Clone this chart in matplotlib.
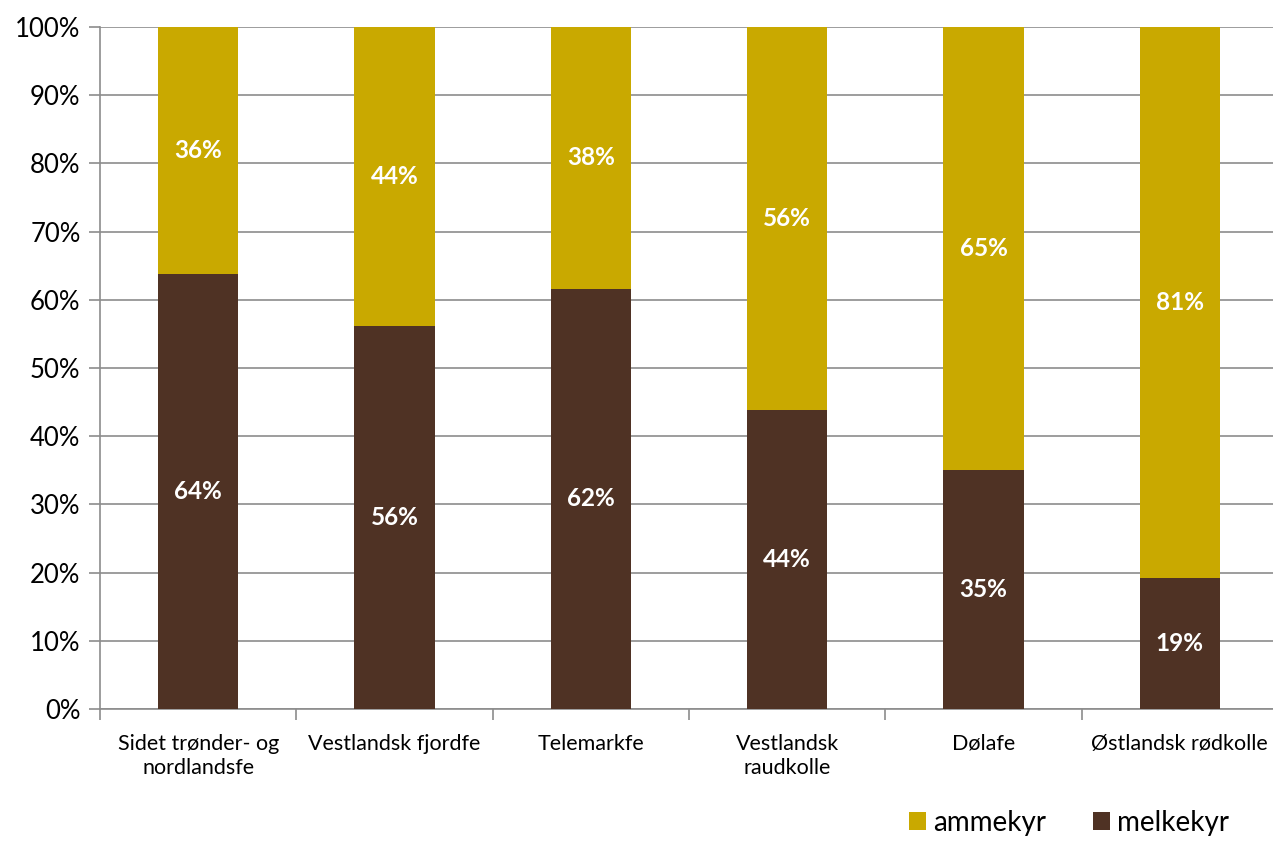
import matplotlib
matplotlib.use("Agg")
import matplotlib.pyplot as plt
import numpy as np

categories = ["Sidet trønder- og\nnordlandsfe", "Vestlandsk fjordfe", "Telemarkfe",
              "Vestlandsk\nraudkolle", "Dølafe", "Østlandsk rødkolle"]
melkekyr = [63.8, 56.2, 61.6, 43.8, 35.0, 19.2]
ammekyr = [36.2, 43.8, 38.4, 56.2, 65.0, 80.8]
melk_labels = ["64%", "56%", "62%", "44%", "35%", "19%"]
amme_labels = ["36%", "44%", "38%", "56%", "65%", "81%"]
yticks = list(range(0, 101, 10))

c_amme = "#C9A900"
c_melk = "#4F3224"

plt.rcParams['font.family'] = ['Lato', 'DejaVu Sans']

fig = plt.figure(figsize=(12.73, 8.42), dpi=100)
ax = fig.add_axes([100/1273, 1-709/842, (1278-100)/1273, (709-27)/842])

x = np.arange(len(categories))
w = 0.41
b1 = ax.bar(x, melkekyr, w, color=c_melk, label="melkekyr", zorder=3)
b2 = ax.bar(x, ammekyr, w, bottom=melkekyr, color=c_amme, label="ammekyr", zorder=3)

for i in range(len(categories)):
    ax.text(x[i], melkekyr[i]/2, melk_labels[i], ha="center", va="center",
            color="white", fontsize=17.5, fontweight="bold", zorder=4)
    ax.text(x[i], melkekyr[i] + ammekyr[i]/2, amme_labels[i], ha="center", va="center",
            color="white", fontsize=17.5, fontweight="bold", zorder=4)

ax.set_xlim(-0.5, len(categories)-0.5)
ax.set_ylim(0, 100)
ax.set_yticks(yticks)
ax.set_yticklabels([f"{t}%" for t in yticks], fontsize=18.5)
ax.yaxis.grid(True, color="#8c8c8c", linewidth=1.2, zorder=0)
ax.set_axisbelow(True)

ax.set_xticks(x)
ax.set_xticklabels(categories, fontsize=15.5, linespacing=1.25)
ax.tick_params(axis="x", length=0, pad=18)
ax.set_xticks(np.arange(-0.5, len(categories)), minor=True)
ax.tick_params(axis="x", which="minor", length=8, color="#8c8c8c", width=1.2)
ax.tick_params(axis="y", length=8, color="#8c8c8c", width=1.2, pad=6)

for s in ["top", "right"]:
    ax.spines[s].set_visible(False)
for s in ["left", "bottom"]:
    ax.spines[s].set_color("#8c8c8c")
    ax.spines[s].set_linewidth(1.2)

handles = [b2, b1]
fig.legend(handles, ["ammekyr", "melkekyr"], loc="lower right", bbox_to_anchor=(0.985, -0.022),
           ncol=2, frameon=False, fontsize=20, handlelength=0.6, handleheight=0.6,
           handletextpad=0.25, columnspacing=1.7)

fig.savefig("out.png", dpi=100)
